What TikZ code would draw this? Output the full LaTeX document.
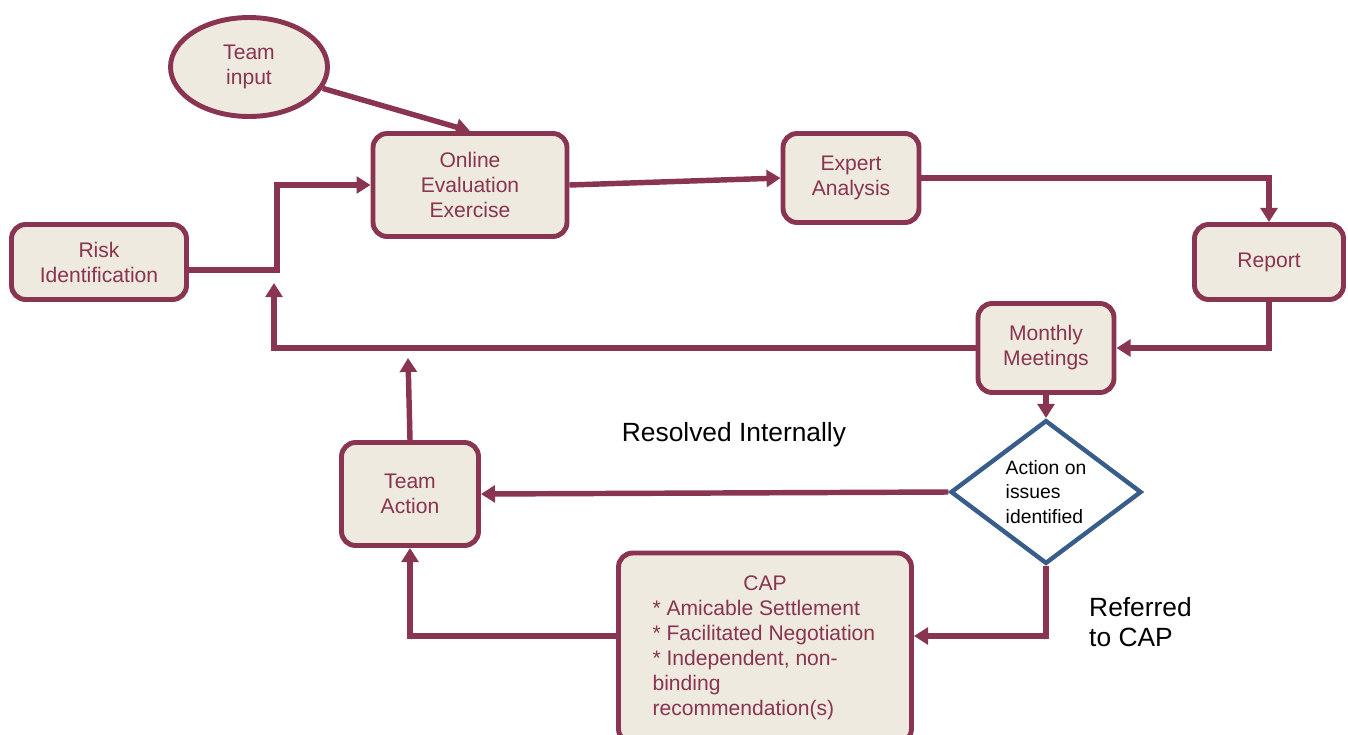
\documentclass[tikz,border=0pt]{standalone}
\usepackage{fontspec}
\setmainfont{Liberation Sans}
\usetikzlibrary{shapes.geometric,arrows.meta}
\definecolor{wine}{RGB}{137,52,80}
\definecolor{paper}{RGB}{238,234,223}
\definecolor{steel}{RGB}{56,93,138}

\begin{document}
\begin{tikzpicture}[x=0.02cm,y=-0.02cm,
  box/.style={draw=wine, line width=2.8pt, fill=paper, rounded corners=8pt, text=wine, align=center, font=\fontsize{12}{14.2}\selectfont},
  bubble/.style={ellipse, draw=wine, line width=2.8pt, fill=paper, text=wine, align=center, inner sep=0pt, font=\fontsize{12}{14.2}\selectfont},
  decision/.style={diamond, draw=steel, line width=2.5pt, fill=white, align=left, inner sep=0pt, font=\fontsize{11}{13.9}\selectfont},
  flow/.style={draw=wine, line width=3.1pt, -{Triangle[length=8pt,width=9.5pt]}},
  lbl/.style={font=\fontsize{15}{17}\selectfont, align=left}]

\useasboundingbox (0,0) rectangle (1348,734);

% boxes
\node[bubble, minimum width=3.14cm, minimum height=1.98cm] (input) at (249,67) {Team\\input};
\node[box, minimum width=3.88cm, minimum height=2.06cm] (online) at (470,185) {Online\\Evaluation\\Exercise};
\node[box, minimum width=2.72cm, minimum height=1.78cm] (expert) at (851,178) {Expert\\Analysis};
\node[box, minimum width=3.5cm, minimum height=1.5cm] (risk) at (99,262) {Risk\\Identification};
\node[box, minimum width=2.98cm, minimum height=1.5cm] (report) at (1269,262) {Report};
\node[box, minimum width=2.72cm, minimum height=1.78cm] (monthly) at (1046,348) {Monthly\\Meetings};
\node[decision, minimum width=3.82cm, minimum height=2.62cm] (issue) at (1046,492) {Action on\\issues\\identified};
\node[box, minimum width=2.74cm, minimum height=2.06cm] (action) at (410,494) {Team\\Action};
\node[box, minimum width=5.86cm, minimum height=3.8cm, align=left] (cap) at (765,648) {\makebox[4.5cm]{CAP}\\* Amicable Settlement\\* Facilitated Negotiation\\* Independent, non-\\binding\\recommendation(s)};

% labels
\node[lbl] (internal) at (734,435) {Resolved Internally};
\node[lbl, anchor=west] (referred) at (1083,622) {Referred\\to CAP};

% free ends
\coordinate (back) at (274,283);
\coordinate (up) at (408,358);

% arrows
\draw[flow] ([yshift=-0.16cm]risk.east) -- ++(88,0) |- (online.west);
\draw[flow] (input) -- (online.north);
\draw[flow] (online.east) -- (expert.west);
\draw[flow] (expert.east) -| (report.north);
\draw[flow] (report.south) |- (monthly.east);
\draw[flow] (monthly.west) -| (back);
\draw[flow] (monthly.south) -- (issue.north);
\draw[flow] (issue.west) -- (action.east);
\draw[flow] (issue.south) |- ([yshift=0.24cm]cap.east);
\draw[flow] ([yshift=0.24cm]cap.west) -| (action.south);
\draw[flow] (action.north) -- (up);

\end{tikzpicture}
\end{document}
